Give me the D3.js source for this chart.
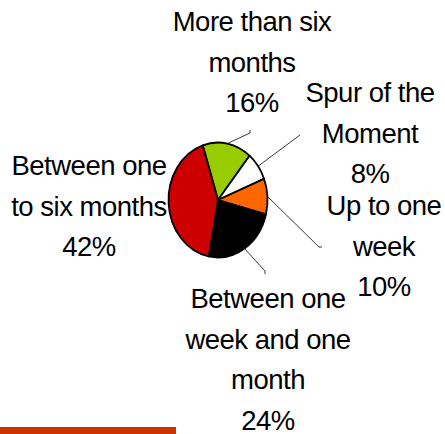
<!DOCTYPE html>
<html>
<head>
<meta charset="utf-8">
<script src="https://cdn.jsdelivr.net/npm/d3@7"></script>
<style>
  body { margin: 0; background: #fff; }
  svg { display: block; }
  text { font-family: "Liberation Sans", Arial, sans-serif; font-size: 27.5px; fill: #000; letter-spacing: -0.5px; }
</style>
</head>
<body>
<svg id="chart" width="445" height="434"></svg>
<script>
// slices, clockwise from the top
const categories = ['More than six months', 'Spur of the Moment', 'Up to one week',
                    'Between one week and one month', 'Between one to six months'];
const values = [16, 8, 10, 24, 42];
const colors = ['#99cc00', '#ffffff', '#ff6600', '#000000', '#cc0000'];

// label text lines and where they sit
const labelLines = [
  ['More than six', 'months', '16%'],
  ['Spur of the', 'Moment', '8%'],
  ['Up to one', 'week', '10%'],
  ['Between one', 'week and one', 'month', '24%'],
  ['Between one', 'to six months', '42%']
];
const labelPos = [[252, 31], [370, 102], [384, 215], [268, 308], [89, 175]];
const lineEnds = [[[250, 133], [250, 130]], [[300, 135]], [[319, 247], [322, 247]],
                  [[265, 271], [265, 274]], null];

const svg = d3.select('#chart');
const cx = 218, cy = 200, rx = 49.5, ry = 57.5;

const pie = d3.pie().sort(null).value(d => d)
    .startAngle(-18 * Math.PI / 180)
    .endAngle(342 * Math.PI / 180);
const arcs = pie(values);
const arc = d3.arc().innerRadius(0).outerRadius(rx);

const g = svg.append('g')
    .attr('transform', `translate(${cx},${cy}) scale(1,${ry / rx})`);

g.selectAll('path')
  .data(arcs)
  .join('path')
    .attr('d', arc)
    .attr('fill', (d, i) => colors[i])
    .attr('stroke', '#000')
    .attr('stroke-width', 1.8)
    .attr('vector-effect', 'non-scaling-stroke')
    .attr('stroke-linejoin', 'round');

// leader lines
arcs.forEach((d, i) => {
  if (!lineEnds[i]) return;
  const a = (d.startAngle + d.endAngle) / 2;
  const start = [cx + rx * Math.sin(a), cy - ry * Math.cos(a)];
  svg.append('path')
      .attr('d', d3.line()([start, ...lineEnds[i]]))
      .attr('fill', 'none')
      .attr('stroke', '#222')
      .attr('stroke-width', 0.9);
});

// labels
labelLines.forEach((lines, i) => {
  const [x, y] = labelPos[i];
  svg.append('text')
      .attr('text-anchor', 'middle')
    .selectAll('tspan')
    .data(lines)
    .join('tspan')
      .attr('x', x)
      .attr('y', (d, j) => y + j * 40.5)
      .text(d => d);
});

// red bar at the foot
svg.append('rect')
    .attr('x', 0).attr('y', 427)
    .attr('width', 176).attr('height', 7)
    .attr('fill', '#cc3300');
</script>
</body>
</html>
